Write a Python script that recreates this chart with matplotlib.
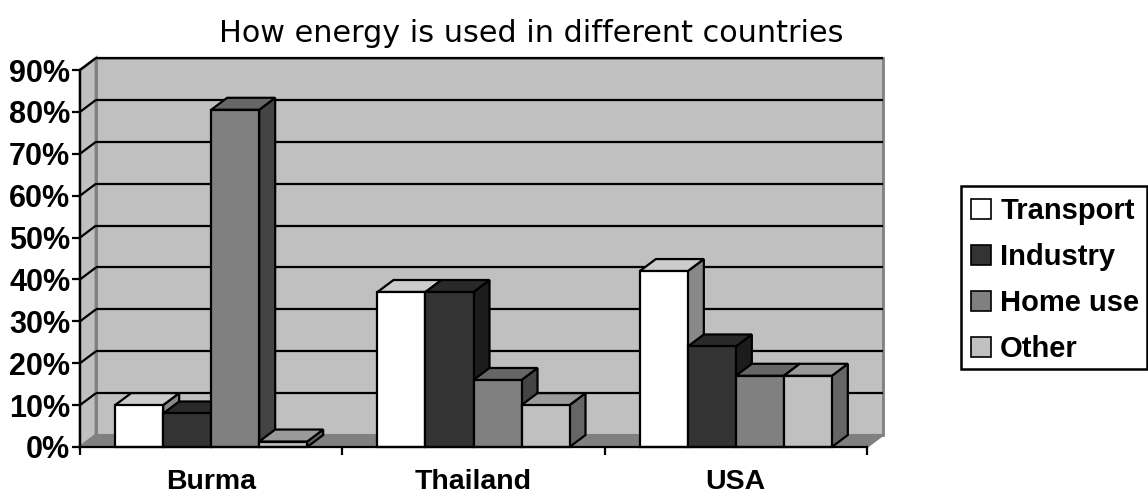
import matplotlib
matplotlib.use("Agg")
import matplotlib.pyplot as plt
from matplotlib.patches import Polygon, Patch, Rectangle

title = "How energy is used in different countries"
countries = ["Burma", "Thailand", "USA"]
series_names = ["Transport", "Industry", "Home use", "Other"]
transport = [10, 37, 42]
industry = [8, 37, 24]
home_use = [80.5, 16, 17]
other = [1.3, 10, 17]
y_ticks = list(range(0, 100, 10))

series = [transport, industry, home_use, other]
front = ["#FFFFFF", "#333333", "#808080", "#C0C0C0"]
top = ["#CCCCCC", "#292929", "#666666", "#9A9A9A"]
side = ["#888888", "#1C1C1C", "#444444", "#666666"]

W, H = 1148, 497
fig = plt.figure(figsize=(W / 100, H / 100), dpi=100)
L, R, B, T = 80, 867, 447, 70
ax = fig.add_axes([L / W, 1 - B / H, (R - L) / W, (B - T) / H])
ax.set_xlim(0, 3)
ax.set_ylim(0, 90)
ax.patch.set_visible(False)

dx = 16 / ((R - L) / 3)
dy = 12 / ((B - T) / 90)
bw = 48 / ((R - L) / 3)
ymax = 90
EK = dict(clip_on=False, joinstyle="miter")

# walls and floor
ax.add_patch(Polygon([(dx, dy), (3 + dx, dy), (3 + dx, ymax + dy), (dx, ymax + dy)],
                     fc="#C0C0C0", ec="#808080", lw=2, zorder=1, **EK))
ax.add_patch(Polygon([(0, 0), (dx, dy), (dx, ymax + dy), (0, ymax)],
                     fc="#C0C0C0", ec="#808080", lw=2, zorder=1, **EK))
ax.add_patch(Polygon([(0, 0), (3, 0), (3 + dx, dy), (dx, dy)],
                     fc="#808080", ec="#808080", lw=1.5, zorder=1.2, **EK))

# gridlines on the walls
for v in y_ticks[1:]:
    ax.plot([dx, 3 + dx], [v + dy, v + dy], color="black", lw=1.6, zorder=1.5,
            clip_on=False, solid_capstyle="butt")
    ax.plot([0, dx], [v, v + dy], color="black", lw=1.6, zorder=1.5,
            clip_on=False, solid_capstyle="butt")

# bars, painted left to right
z = 2.0
for c in range(len(countries)):
    x0 = c + 0.5 - 2 * bw
    for s in range(len(series)):
        v = series[s][c]
        a, b = x0 + s * bw, x0 + (s + 1) * bw
        ax.add_patch(Polygon([(b, 0), (b + dx, dy), (b + dx, v + dy), (b, v)],
                             fc=side[s], ec="black", lw=1.6, zorder=z, **EK))
        ax.add_patch(Polygon([(a, v), (b, v), (b + dx, v + dy), (a + dx, v + dy)],
                             fc=top[s], ec="black", lw=1.6, zorder=z, **EK))
        ax.add_patch(Polygon([(a, 0), (b, 0), (b, v), (a, v)],
                             fc=front[s], ec="black", lw=1.6, zorder=z + 0.01, **EK))
        z += 0.1

# axes
for sp in ("top", "right"):
    ax.spines[sp].set_visible(False)
for sp in ("left", "bottom"):
    ax.spines[sp].set_linewidth(1.6)
    ax.spines[sp].set_zorder(20)
ax.set_yticks(y_ticks)
ax.set_yticklabels([f"{v}%" for v in y_ticks], fontfamily="Liberation Sans",
                   fontweight="bold", fontsize=22)
ax.set_xticks([0, 1, 2, 3])
ax.set_xticklabels([])
ax.set_xticks([0.5, 1.5, 2.5], labels=countries, minor=True,
              fontfamily="Liberation Sans", fontweight="bold", fontsize=20.5)
ax.tick_params(axis="x", which="minor", length=0, pad=16)
ax.tick_params(axis="x", which="major", length=6, width=1.6, direction="out")
ax.tick_params(axis="y", length=6, width=1.6, pad=1)

fig.text(531 / W, 1 - 33 / H, title, ha="center", va="center",
         fontfamily="DejaVu Sans", fontsize=21.8)

# legend: frame drawn separately so the rows can sit low inside it as in the reference
fig.add_artist(Rectangle((961 / W, 1 - 369 / H), 186 / W, 183 / H,
                         transform=fig.transFigure, fc="white", ec="black", lw=1.8))
handles = [Patch(fc=f, ec="black", lw=1.2) for f in front]
leg = fig.legend(handles, series_names, loc="center left",
                 bbox_to_anchor=(964 / W, 1 - 280 / H),
                 prop=dict(family="Liberation Sans", weight="bold", size=21),
                 frameon=False,
                 borderaxespad=0, borderpad=0.25, labelspacing=0.62,
                 handlelength=0.69, handleheight=0.69, handletextpad=0.3)

fig.savefig("out.png", dpi=100)
